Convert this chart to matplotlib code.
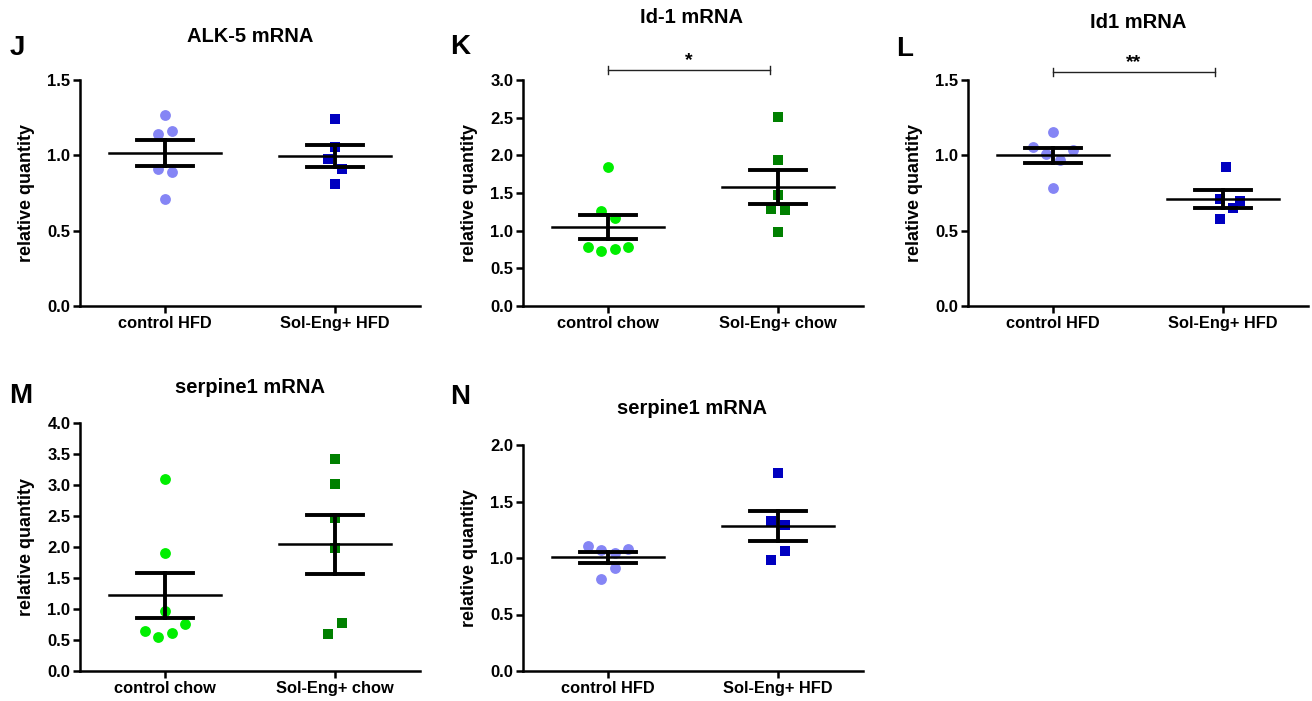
import numpy as np
import matplotlib
matplotlib.use("Agg")
import matplotlib.pyplot as plt

plt.rcParams['font.family'] = ['Liberation Sans', 'DejaVu Sans']

# ---------------- data ----------------
# Panel J: ALK-5 mRNA
j_categories = ["control HFD", "Sol-Eng+ HFD"]
j_control = [1.27, 1.14, 1.16, 0.91, 0.89, 0.71]
j_soleng = [1.24, 1.055, 0.975, 0.91, 0.81]

# Panel K: Id-1 mRNA
k_categories = ["control chow", "Sol-Eng+ chow"]
k_control = [1.85, 1.265, 1.165, 0.78, 0.735, 0.76, 0.785]
k_soleng = [2.51, 1.94, 1.47, 1.29, 1.27, 0.98]

# Panel L: Id1 mRNA
l_categories = ["control HFD", "Sol-Eng+ HFD"]
l_control = [1.155, 1.055, 1.01, 1.035, 0.97, 0.785]
l_soleng = [0.92, 0.71, 0.695, 0.65, 0.575]

# Panel M: serpine1 mRNA (chow)
m_categories = ["control chow", "Sol-Eng+ chow"]
m_control = [3.10, 1.905, 0.975, 0.65, 0.545, 0.615, 0.755]
m_soleng = [3.42, 3.01, 2.46, 1.98, 0.775, 0.60]

# Panel N: serpine1 mRNA (HFD)
n_categories = ["control HFD", "Sol-Eng+ HFD"]
n_control = [1.11, 1.07, 1.045, 1.08, 0.91, 0.815]
n_soleng = [1.75, 1.33, 1.29, 1.06, 0.98]

# horizontal jitter offsets (as in the reference scatter layout)
j_ctrl_dx = [0, -0.04, 0.04, -0.04, 0.04, 0]
j_sol_dx = [0, 0, -0.04, 0.04, 0]
k_ctrl_dx = [0, -0.04, 0.04, -0.12, -0.04, 0.04, 0.12]
k_sol_dx = [0, 0, 0, -0.04, 0.04, 0]
l_ctrl_dx = [0, -0.12, -0.04, 0.12, 0.04, 0]
l_sol_dx = [0.02, -0.02, 0.10, 0.06, -0.02]
m_ctrl_dx = [0, 0, 0, -0.12, -0.04, 0.04, 0.12]
m_sol_dx = [0, 0, 0, 0, 0.04, -0.04]
n_ctrl_dx = [-0.12, -0.04, 0.04, 0.12, 0.04, -0.04]
n_sol_dx = [0, -0.04, 0.04, 0.04, -0.04]

LIGHT_BLUE = "#8585f5"
DARK_BLUE = "#0000c0"
GREEN = "#00ee00"
DARK_GREEN = "#008000"

W, H = 1312, 701
fig = plt.figure(figsize=(W / 100, H / 100), dpi=100)


def px_axes(left, top, right, bottom):
    return fig.add_axes([left / W, 1 - bottom / H, (right - left) / W, (bottom - top) / H])


def panel(ax, cats, ctrl, sol, cdx, sdx, c1, c2, ymax):
    groups = [(ctrl, cdx, 'o', c1, 7.8), (sol, sdx, 's', c2, 6.6)]
    for i, (vals, dx, mk, col, ms) in enumerate(groups):
        v = np.asarray(vals)
        ax.plot(i + np.asarray(dx), v, linestyle='none', marker=mk, color=col,
                markersize=ms, markeredgewidth=0, zorder=2, clip_on=False)
        mean = v.mean()
        sem = v.std(ddof=1) / np.sqrt(len(v))
        ax.plot([i - 0.33, i + 0.33], [mean, mean], color='black', lw=1.8, zorder=3)
        ax.plot([i, i], [mean - sem, mean + sem], color='black', lw=2.8, zorder=3)
        for yy in (mean - sem, mean + sem):
            ax.plot([i - 0.165, i + 0.165], [yy, yy], color='black', lw=2.8, zorder=3)
    ax.set_xlim(-0.5, 1.5)
    ax.set_ylim(0, ymax)
    ticks = np.arange(0, ymax + 0.01, 0.5)
    ax.set_yticks(ticks)
    ax.set_yticklabels([f"{t:.1f}" for t in ticks], fontweight='bold', fontsize=12)
    ax.set_xticks([0, 1])
    ax.set_xticklabels(cats, fontweight='bold', fontsize=11.8)
    for s in ('top', 'right'):
        ax.spines[s].set_visible(False)
    for s in ('left', 'bottom'):
        ax.spines[s].set_linewidth(1.8)
    ax.tick_params(axis='both', direction='out', width=1.8, length=5, pad=2)
    ax.set_ylabel("relative quantity", fontweight='bold', fontsize=13, labelpad=9)


def sig_bar(ax, y, x1, x2, text):
    ax.plot([x1, x2], [y, y], color='#222222', lw=1.0, clip_on=False)
    dy = ax.get_ylim()[1] * 0.018
    for xx in (x1, x2):
        ax.plot([xx, xx], [y - dy, y + dy], color='#222222', lw=1.0, clip_on=False)
    ax.text((x1 + x2) / 2, y + dy * 0.3, text, ha='center', va='bottom',
            fontsize=14, fontweight='bold')


# Panel J
axJ = px_axes(80, 80, 420, 306)
panel(axJ, j_categories, j_control, j_soleng, j_ctrl_dx, j_sol_dx, LIGHT_BLUE, DARK_BLUE, 1.5)
# Panel K
axK = px_axes(523, 80, 863, 306)
panel(axK, k_categories, k_control, k_soleng, k_ctrl_dx, k_sol_dx, GREEN, DARK_GREEN, 3.0)
sig_bar(axK, 3.133, 0.0, 0.95, "*")
# Panel L
axL = px_axes(968, 80, 1308, 306)
panel(axL, l_categories, l_control, l_soleng, l_ctrl_dx, l_sol_dx, LIGHT_BLUE, DARK_BLUE, 1.5)
sig_bar(axL, 1.551, 0.0, 0.95, "**")
# Panel M
axM = px_axes(80, 423, 420, 671)
panel(axM, m_categories, m_control, m_soleng, m_ctrl_dx, m_sol_dx, GREEN, DARK_GREEN, 4.0)
# Panel N
axN = px_axes(523, 445, 863, 671)
panel(axN, n_categories, n_control, n_soleng, n_ctrl_dx, n_sol_dx, LIGHT_BLUE, DARK_BLUE, 2.0)


def ftext(x, y, s, size):
    fig.text(x / W, 1 - y / H, s, fontsize=size, fontweight='bold', ha='center', va='center')


# titles
ftext(250, 36, "ALK-5 mRNA", 14.5)
ftext(692, 17.5, "Id-1 mRNA", 14.5)
ftext(1138, 22, "Id1 mRNA", 14.5)
ftext(250, 387.5, "serpine1 mRNA", 14.5)
ftext(692, 408, "serpine1 mRNA", 14.5)
# panel letters
ftext(17.5, 48, "J", 20)
ftext(460, 47, "K", 20)
ftext(905, 49, "L", 20)
ftext(21, 396, "M", 20)
ftext(460, 397, "N", 20)

fig.savefig("out.png", dpi=100)
